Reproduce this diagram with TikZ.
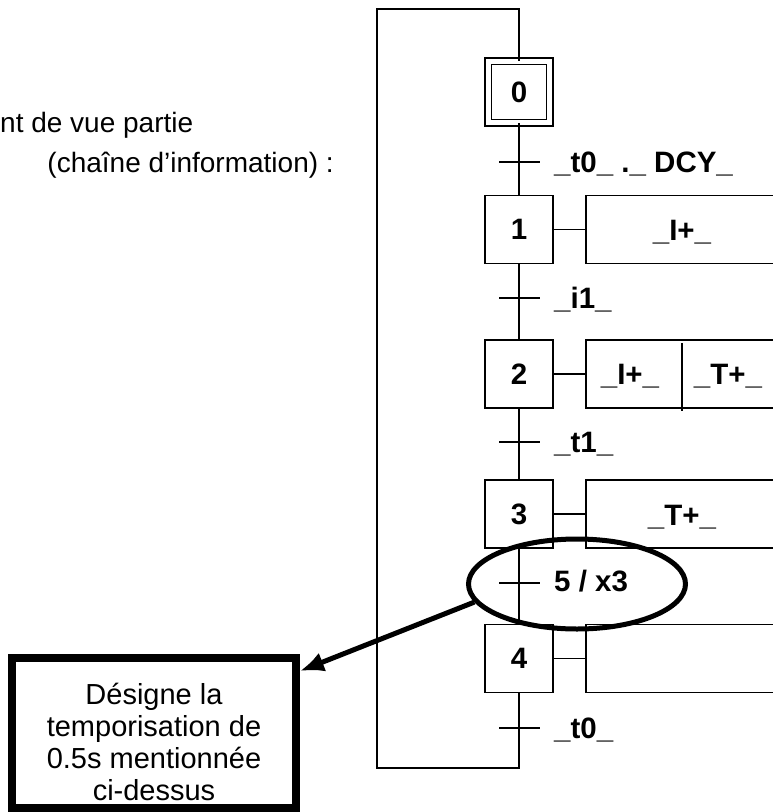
\documentclass[tikz,border=0pt]{standalone}
\usepackage{fontspec}
\setmainfont{Liberation Sans}
\usetikzlibrary{arrows.meta,shapes.geometric}

\tikzset{
	etape/.style={draw, line width=1.2pt, minimum width=68pt, minimum height=68pt, inner sep=0pt, font=\bfseries\fontsize{29.5}{32}\selectfont},
	etapeinit/.style={etape, double, double distance=5.3pt, minimum width=61.5pt, minimum height=61.5pt},
	action/.style={draw, line width=1.2pt, minimum width=220pt, minimum height=68pt, inner sep=0pt},
	recept/.style={anchor=base west, inner sep=0pt, font=\bfseries\fontsize{29.5}{32}\selectfont},
	acttxt/.style={anchor=base, inner sep=0pt, font=\bfseries\fontsize{29.5}{32}\selectfont},
	texte/.style={inner sep=0pt, font=\fontsize{28}{32}\selectfont},
	lien/.style={line width=1.2pt},
}

\begin{document}
\begin{tikzpicture}[x=1pt,y=-1pt]
		\clip (0,0) rectangle (773,812);
		\node [texte, anchor=base west] (titre1) at (0,132) {nt de vue partie};
		\node [texte, anchor=base east] (titre2) at (334,172) {(chaîne d’information) :};
		
		% etapes
		\node [etapeinit] (e0) at (519,92) {0};
		\node [etape] (e1) at (519,229.5) {1};
		\node [etape] (e2) at (519,374) {2};
		\node [etape] (e3) at (519,514) {3};
		\node [etape] (e4) at (519,658.5) {4};
		
		% actions
		\node [action] (a1) at (696,229.5) {};
		\node [action] (a2) at (696,374) {};
		\node [action] (a3) at (696,514) {};
		\node [action] (a4) at (696,658.5) {};
		\node [acttxt] (a1txt) at (682,240) {\_I+\_};
		\node [acttxt] (a2txt) at (630,384) {\_I+\_};
		\node [acttxt] (a2txtb) at (728,384) {\_T+\_};
		\node [acttxt] (a3txt) at (682,525) {\_T+\_};
		\draw [lien] (682,343) -- (682,411);
		
		\draw [lien] (e1) -- (a1);
		\draw [lien] (e2) -- (a2);
		\draw [lien] (e3) -- (a3);
		\draw [lien] (e4) -- (a4);
		
		% liaisons et boucle
		\draw [lien] (e0) -- (e1);
		\draw [lien] (e1) -- (e2);
		\draw [lien] (e2) -- (e3);
		\draw [lien] (e3) -- (e4);
		\draw [lien] (e4) -- (519,768) -| (377,9) -| (e0);
		
		% transitions
		\foreach \ty in {162,298,442,583,728}
			\draw [lien] (499,\ty) -- (540,\ty);
		\node [recept] (r0) at (554,172) {\_t0\_ .\_ DCY\_};
		\node [recept] (r1) at (554,308) {\_i1\_};
		\node [recept] (r2) at (554,452) {\_t1\_};
		\node [recept] (r3) at (554,591) {5 / x3};
		\node [recept] (r4) at (554,738) {\_t0\_};
		
		% commentaire
		\node [draw, ellipse, line width=5pt, minimum width=217pt, minimum height=90pt, inner sep=0pt] (cercle) at (577,584) {};
		\node [draw, line width=8pt, minimum width=284pt, minimum height=150pt, inner sep=0pt] (note) at (154,733) {};
		\node [align=center, inner sep=0pt, font=\fontsize{29}{32}\selectfont] (notetxt) at (154,742) {Désigne la\\temporisation de\\0.5s mentionnée\\ci-dessus};
		\draw [-{Latex[length=24pt,width=20pt]}, line width=5pt] (cercle.190) -- (note.23);
\end{tikzpicture}
\end{document}
